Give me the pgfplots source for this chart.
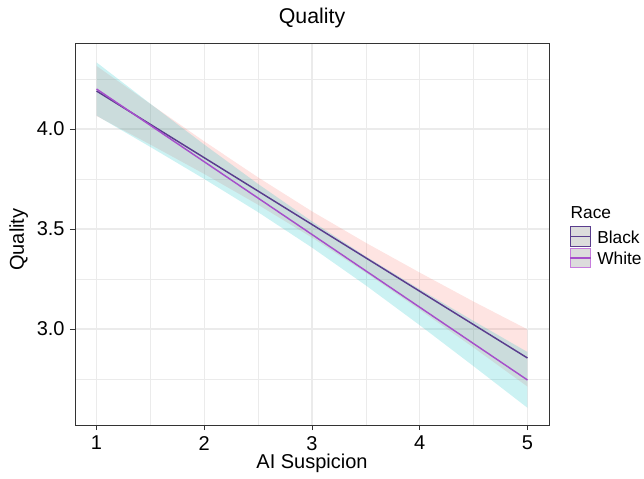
\documentclass[border=0pt]{standalone}
\usepackage{pgfplots}
\pgfplotsset{compat=1.18}
\usepackage{fontspec}
\setmainfont{Liberation Sans}
\definecolor{pinkfill}{HTML}{F8766D}
\definecolor{cyanfill}{HTML}{00BFC4}
\definecolor{blackline}{HTML}{5A3D8E}
\definecolor{whiteline}{HTML}{A64FCB}
\definecolor{whitekey}{HTML}{C77CDD}
\definecolor{gridc}{HTML}{EBEBEB}
\definecolor{keyfill}{HTML}{DCDCDC}
\begin{document}
\begin{tikzpicture}
\path[use as bounding box] (-56.25pt,-40.5pt) rectangle (426.75pt,318.75pt);
\begin{axis}[
  at={(0pt,0pt)}, anchor=south west, scale only axis,
  width=355.5pt, height=286.5pt,
  xmin=0.8, xmax=5.2, ymin=2.52, ymax=4.43,
  xtick={1,2,3,4,5}, xticklabels={1,2,3,4,5},
  ytick={3,3.5,4}, yticklabels={3.0,3.5,4.0},
  minor xtick={1.5,2.5,3.5,4.5}, minor ytick={2.75,3.25,3.75,4.25},
  grid=both,
  major grid style={gridc, line width=0.8pt},
  minor grid style={gridc, line width=0.45pt},
  tick align=outside, major tick length=3.75pt, minor tick length=0pt,
  xtick pos=bottom, ytick pos=left,
  tick style={black!80, line width=0.7pt},
  axis line style={black!80, line width=0.7pt},
  ticklabel style={font=\fontsize{15}{18}\selectfont, text=black},
  xticklabel style={yshift=-1pt},
  yticklabel style={xshift=-0.5pt},
  axis on top=false,
]
% Black ribbon (pink)
\addplot[fill=pinkfill, fill opacity=0.2, draw=none, forget plot] coordinates {
(1,4.315) (1.5,4.125) (2,3.938) (2.5,3.758) (3,3.588) (3.5,3.431) (4,3.282) (4.5,3.137) (5,2.998)
(5,2.712) (4.5,2.907) (4,3.096) (3.5,3.281) (3,3.457) (2.5,3.621) (2,3.775) (1.5,3.922) (1,4.065)
} -- cycle;
% White ribbon (cyan)
\addplot[fill=cyanfill, fill opacity=0.2, draw=none, forget plot] coordinates {
(1,4.333) (1.5,4.126) (2,3.922) (2.5,3.725) (3,3.538) (3.5,3.363) (4,3.199) (4.5,3.040) (5,2.885)
(5,2.606) (4.5,2.814) (4,3.019) (3.5,3.218) (3,3.407) (2.5,3.584) (2,3.750) (1.5,3.910) (1,4.067)
} -- cycle;
% Black line
\addplot[blackline, line width=1.1pt] coordinates {(1,4.19) (5,2.855)};
% White line
\addplot[whiteline, line width=1.1pt] coordinates {(1,4.20) (5,2.745)};
\end{axis}
% title and axis titles
\node[font=\fontsize{16}{19}\selectfont, anchor=center] at (177.75pt,305pt) {Quality};
\node[font=\fontsize{15}{18}\selectfont, anchor=base] at (177.75pt,-33pt) {AI Suspicion};
\node[font=\fontsize{15}{18}\selectfont, anchor=base, rotate=90] at (-38.25pt,139pt) {Quality};
% legend
\node[font=\fontsize{13}{15}\selectfont, anchor=west, inner sep=0pt] at (371.5pt,159pt) {Race};
\draw[blackline, fill=keyfill, line width=0.7pt] (371.25pt,133.7pt) rectangle (386.8pt,148.7pt);
\draw[blackline, line width=1.1pt] (371.25pt,141.2pt) -- (386.8pt,141.2pt);
\draw[whitekey, fill=keyfill, line width=0.7pt] (371.25pt,118pt) rectangle (386.8pt,132.75pt);
\draw[whiteline, line width=1.1pt] (371.25pt,125.4pt) -- (386.8pt,125.4pt);
\node[font=\fontsize{13}{15}\selectfont, anchor=west, inner sep=0pt] at (391.5pt,141pt) {Black};
\node[font=\fontsize{13}{15}\selectfont, anchor=west, inner sep=0pt] at (391.5pt,125.3pt) {White};
\end{tikzpicture}
\end{document}
